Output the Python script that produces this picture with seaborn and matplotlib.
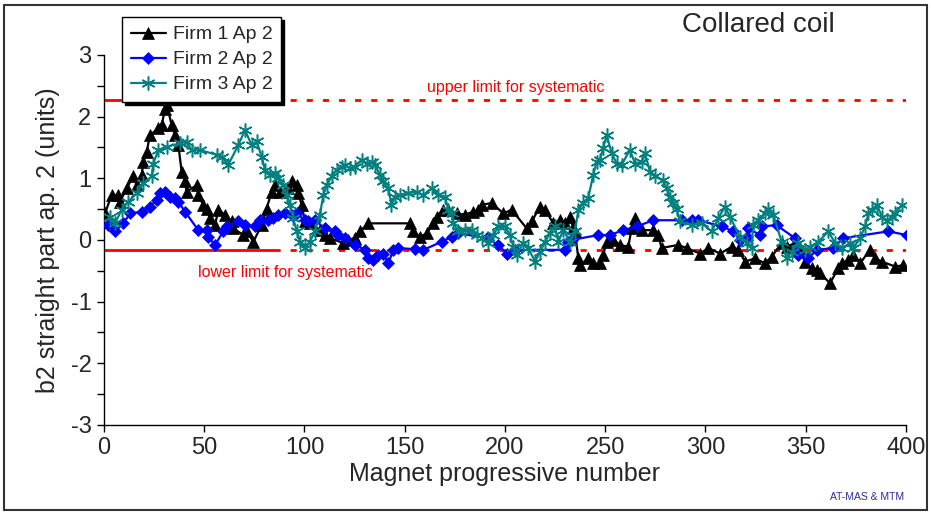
import numpy as np
import pandas as pd
import matplotlib
matplotlib.use("Agg")
import matplotlib.pyplot as plt
from matplotlib.patches import Rectangle
import seaborn as sns

# Firm 1, aperture 2
firm1_x = [0.5, 3.8, 7, 8, 11.3, 14.6, 16.3, 18.8, 19.6, 21.3, 22.9, 27.1, 28.8, 30.4, 31.3,
           33.8, 35.4, 37.1, 38.7, 40.4, 41.2, 46.2, 47, 49.5, 51.2, 52.9, 55.4, 57, 60.3,
           63.7, 64.5, 69.5, 71.2, 74.5, 78.6, 81.1, 83.6, 85.3, 87.8, 91.9, 93.6, 96.1,
           96.9, 98.6, 100.2, 102.7, 107.7, 110.2, 112.7, 119.4, 121.8, 125.2, 127.7, 131.8,
           152.6, 154.3, 157.6, 161, 164.2, 165.9, 169.2, 171.7, 175.9, 180, 184.2, 186.7,
           188.4, 193.4, 199.2, 203.3, 210.8, 213.3, 217.5, 220, 224.1, 227.4, 229.9, 232.4,
           234.1, 234.9, 236.6, 237.4, 241.5, 244, 247.4, 249, 250.7, 254, 257.4, 261.5,
           263.2, 264.9, 268.2, 274, 276.5, 278.1, 286.4, 290.6, 297.3, 301.4, 307.3, 313.1,
           316.4, 319.7, 324.7, 329.7, 333, 338, 340.5, 344.6, 347.1, 349.6, 353, 355.5,
           357.1, 362.1, 366.3, 368, 371.3, 373.8, 377.1, 382.1, 384.6, 387.9, 394.6, 398.7]
firm1_y = [0.43, 0.73, 0.73, 0.62, 0.84, 1.03, 0.89, 1.05, 1.27, 1.43, 1.70, 1.81, 1.86, 2.13,
           2.19, 1.86, 1.70, 1.54, 1.11, 0.95, 0.78, 0.89, 0.73, 0.57, 0.51, 0.35, 0.24,
           0.49, 0.41, 0.30, 0.19, 0.08, 0.14, -0.03, 0.24, 0.51, 0.78, 0.89, 0.78, 0.84,
           0.95, 0.89, 0.76, 0.57, 0.30, 0.27, 0.16, 0.08, 0.03, -0.05, 0.0, 0.03, 0.14,
           0.27, 0.27, 0.14, 0.05, 0.11, 0.27, 0.38, 0.49, 0.49, 0.43, 0.41, 0.46, 0.49,
           0.57, 0.60, 0.43, 0.49, 0.19, 0.30, 0.54, 0.49, 0.27, 0.32, 0.27, 0.38, 0.19,
           0.14, -0.30, -0.41, -0.30, -0.38, -0.38, -0.24, -0.03, 0.0, -0.08, -0.11, 0.19,
           0.35, 0.16, 0.16, 0.08, -0.13, -0.08, -0.13, -0.22, -0.13, -0.22, -0.11, -0.16,
           -0.35, -0.30, -0.38, -0.27, -0.05, -0.11, -0.05, -0.13, -0.35, -0.46, -0.49,
           -0.54, -0.70, -0.46, -0.38, -0.32, -0.24, -0.38, -0.16, -0.30, -0.35, -0.43, -0.41]

# Firm 2, aperture 2
firm2_x = [2.1, 5.5, 9.6, 13, 18.8, 22.9, 26.3, 27.9, 30.4, 32.9, 35.4, 37.1, 40.4, 47, 51.2,
           52, 55.4, 59.5, 61.2, 67, 70.3, 75.3, 77.8, 81.9, 84.4, 86.9, 90.3, 93.6, 96.1,
           100.2, 101.9, 105.2, 110.2, 115.2, 116.8, 120.2, 125.2, 130.2, 131.8, 134.3,
           136.8, 139.3, 141.8, 144.3, 146.8, 155.1, 159.3, 168.4, 173.4, 176.7, 190.9,
           196.7, 200.8, 205, 229.9, 231.6, 233.2, 246.5, 252.4, 259, 265.7, 274, 288.1,
           293.1, 296.4, 308, 313.9, 317.2, 320.5, 321.3, 327.2, 328, 335.5, 344.6, 346.3,
           351.3, 355.5, 363.8, 368.8, 391.2, 400.4]
firm2_y = [0.24, 0.14, 0.27, 0.43, 0.46, 0.54, 0.65, 0.76, 0.78, 0.70, 0.68, 0.62, 0.46, 0.16,
           0.16, 0.05, -0.08, 0.14, 0.22, 0.30, 0.24, 0.22, 0.32, 0.32, 0.35, 0.41, 0.43,
           0.41, 0.43, 0.32, 0.30, 0.32, 0.19, 0.14, 0.08, 0.03, -0.08, -0.16, -0.30, -0.32,
           -0.24, -0.22, -0.38, -0.16, -0.13, -0.15, -0.16, -0.03, 0.05, 0.11, 0.03, -0.08,
           -0.22, -0.16, -0.16, -0.03, 0.0, 0.08, 0.08, 0.16, 0.22, 0.32, 0.32, 0.32, 0.32,
           0.22, 0.14, 0.0, 0.05, 0.19, 0.08, 0.22, 0.24, 0.03, -0.24, -0.30, -0.16, -0.13,
           0.03, 0.14, 0.08]

# Firm 3, aperture 2
firm3_x = [3, 5.5, 8.8, 12.1, 16.3, 19.6, 23.8, 24.6, 27.1, 31.3, 37.9, 41.2, 43.7, 47.9,
           56.2, 58.7, 62, 67, 70.3, 73.7, 76.2, 78.6, 80.3, 82.8, 85.3, 86.9, 89.4, 91.1,
           92.8, 94.4, 96.1, 97.8, 100.2, 102.7, 105.2, 107.7, 109.4, 111.1, 113.6, 116.1,
           118.5, 120.2, 122.7, 125.2, 128.5, 131, 133.5, 135.2, 137.7, 139.3, 141.8, 143.4,
           145.1, 147.6, 151.8, 156, 159.3, 163.4, 166.7, 170.1, 171.7, 173.4, 174.2, 176.7,
           180, 183.4, 185.9, 188.4, 191.7, 194.2, 196.7, 200, 202.5, 204.2, 205.8, 209.1,
           211.6, 215, 217.5, 220, 222.4, 224.9, 226.6, 229.1, 232.4, 234.9, 236.6, 239.1,
           241.5, 244, 245.7, 247.4, 249, 250.7, 253.2, 255.7, 258.2, 262.3, 264.9, 268.2,
           269.8, 272.3, 274.8, 278.9, 280.6, 282.3, 283.9, 285.6, 287.3, 293.1, 298.1,
           303.1, 306.4, 309.7, 312.2, 317.2, 320.5, 323, 323.8, 326.3, 329.7, 331.3, 333.8,
           338, 340.5, 343, 346.3, 349.6, 352.1, 356.3, 361.3, 364.6, 368, 372.1, 373.8,
           377.1, 379.6, 381.3, 383, 385.5, 388, 390.5, 393, 394.6, 398]
firm3_y = [0.38, 0.27, 0.49, 0.62, 0.76, 0.92, 1.03, 1.24, 1.46, 1.51, 1.57, 1.59, 1.46, 1.46,
           1.38, 1.35, 1.22, 1.54, 1.78, 1.54, 1.60, 1.35, 1.14, 1.05, 1.08, 1.0, 0.89, 0.73,
           0.57, 0.35, 0.14, -0.03, -0.13, -0.03, 0.14, 0.41, 0.73, 0.89, 1.03, 1.14, 1.19,
           1.22, 1.16, 1.19, 1.30, 1.24, 1.27, 1.22, 1.05, 0.95, 0.84, 0.57, 0.70, 0.73,
           0.76, 0.78, 0.73, 0.84, 0.73, 0.70, 0.49, 0.43, 0.27, 0.14, 0.16, 0.16, 0.08,
           0.03, -0.05, 0.08, 0.22, 0.22, 0.08, -0.11, -0.24, -0.05, -0.13, -0.35, -0.19,
           -0.03, 0.11, 0.22, -0.03, 0.16, -0.03, 0.14, 0.49, 0.60, 0.68, 1.05, 1.27, 1.30,
           1.49, 1.70, 1.41, 1.24, 1.22, 1.46, 1.24, 1.27, 1.41, 1.11, 1.03, 0.97, 0.84,
           0.70, 0.60, 0.51, 0.30, 0.24, 0.27, 0.14, 0.35, 0.54, 0.38, 0.05, -0.05, -0.13,
           0.24, 0.32, 0.43, 0.51, 0.41, -0.03, -0.30, -0.19, -0.05, -0.16, -0.11, -0.03,
           0.14, -0.05, -0.13, -0.05, -0.13, 0.03, 0.22, 0.43, 0.49, 0.57, 0.38, 0.30, 0.38,
           0.43, 0.57]

series_names = ["Firm 1 Ap 2", "Firm 2 Ap 2", "Firm 3 Ap 2"]
upper_limit = 2.27
lower_limit = -0.16
solid_end = 85

sns.set_style("white")
plt.rcParams["font.family"] = ["Liberation Sans", "DejaVu Sans"]

fig = plt.figure(figsize=(9.31, 5.14), dpi=100)
ax = fig.add_axes([0.1117, 0.1732, 0.8614, 0.7198])

# systematic limits: solid over the first magnets, dotted afterwards
for lim in (upper_limit, lower_limit):
    ax.plot([0, solid_end], [lim, lim], color="#ff0000", lw=2, zorder=1)
    ax.plot([solid_end, 400], [lim, lim], color="#ff0000", lw=2,
            linestyle=(0, (2.2, 3.6)), zorder=1)

frames = [
    pd.DataFrame({"x": firm1_x, "y": firm1_y}),
    pd.DataFrame({"x": firm2_x, "y": firm2_y}),
    pd.DataFrame({"x": firm3_x, "y": firm3_y}),
]
styles = [
    dict(color="black", marker="^", markersize=8.5, markeredgewidth=0.5),
    dict(color="#0000ff", marker="D", markersize=6.3, markeredgewidth=0.5),
    dict(color="#008080", marker=(6, 2, 0), markersize=10, markeredgewidth=1.1),
]
for df, name, st in zip(frames, series_names, styles):
    sns.lineplot(data=df, x="x", y="y", sort=False, ax=ax, label=name,
                 color=st["color"], marker=st["marker"], markersize=st["markersize"],
                 markeredgecolor=st["color"], markeredgewidth=st["markeredgewidth"],
                 linewidth=1.6, zorder=3)

ax.set_xlim(0, 400)
ax.set_ylim(-3, 3)
ax.set_xticks(np.arange(0, 401, 50))
ax.set_yticks(np.arange(-3, 3.01, 1))
ax.set_yticks(np.arange(-3, 3.01, 0.5), minor=True)
ax.tick_params(axis="both", which="major", direction="out", length=5, width=1,
               labelsize=17, color="black", left=True, bottom=True, pad=4)
ax.tick_params(axis="y", which="minor", direction="out", length=5, width=1,
               color="black", left=True)
ax.set_yticklabels([str(v) for v in range(-3, 4)])
for s in ("top", "right"):
    ax.spines[s].set_visible(False)
for s in ("left", "bottom"):
    ax.spines[s].set_color("black")
    ax.spines[s].set_linewidth(1)

ax.set_xlabel("Magnet progressive number", fontsize=18, labelpad=2)
ax.set_ylabel("b2 straight part ap. 2 (units)", fontsize=18, labelpad=8)

ax.text(161, 2.47, "upper limit for systematic", color="#ff0000", fontsize=11.5, ha="left",
        va="center")
ax.text(47, -0.53, "lower limit for systematic", color="#ff0000", fontsize=11.5, ha="left",
        va="center")

fig.text(0.815, 0.952, "Collared coil", fontsize=20, ha="center", va="center")
fig.text(0.931, 0.033, "AT-MAS & MTM", fontsize=7.5, color="#2b2b9e", ha="center",
         va="center")

leg = ax.legend(loc="upper left", bbox_to_anchor=(0.131, 0.967),
                bbox_transform=fig.transFigure, fontsize=14, frameon=True, fancybox=False,
                shadow={"color": "black", "alpha": 1}, borderpad=0.45, labelspacing=0.38,
                handlelength=1.8, handletextpad=0.35, borderaxespad=0)
leg.get_frame().set_edgecolor("black")
leg.get_frame().set_linewidth(1)
leg.set_zorder(5)

# outer frame round the whole figure
fig.patches.append(Rectangle((0.004, 0.008), 0.992, 0.983, transform=fig.transFigure,
                             fill=False, edgecolor="#333333", linewidth=1.5))

fig.savefig("out.png", dpi=100)
